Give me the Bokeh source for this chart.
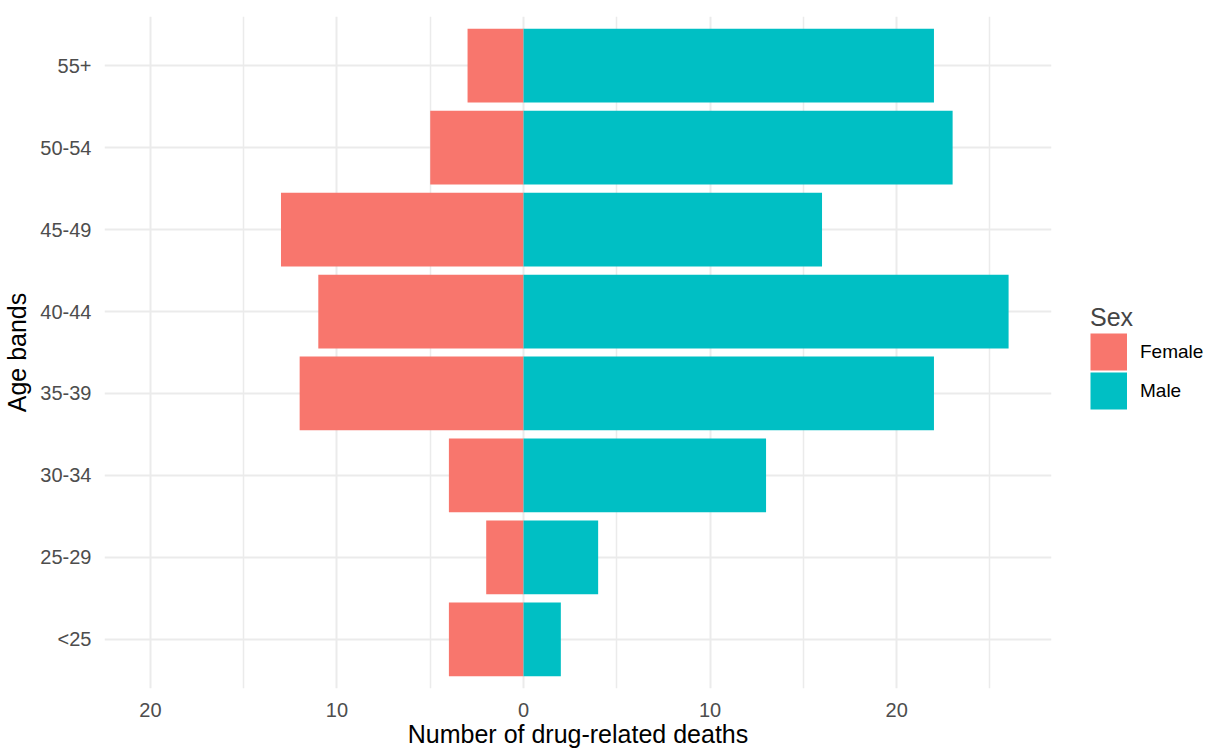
from bokeh.plotting import figure
from bokeh.models import Range1d, FixedTicker, Legend, LegendItem
from bokeh.embed import file_html
from bokeh.resources import INLINE

age_bands = ["<25", "25-29", "30-34", "35-39", "40-44", "45-49", "50-54", "55+"]
female = [4, 2, 4, 12, 11, 13, 5, 3]
male = [2, 4, 13, 22, 26, 16, 23, 22]
x_ticks = [-20, -10, 0, 10, 20]
x_minor = [-15, -5, 5, 15, 25]
sexes = ["Female", "Male"]
colors = ["#F8766D", "#00BFC4"]

FONT = "Liberation Sans"
ypos = list(range(1, len(age_bands) + 1))
female_neg = [-v for v in female]

p = figure(frame_width=947, frame_height=672, output_backend="svg", toolbar_location=None,
           x_range=Range1d(-22.46, 28.3), y_range=Range1d(0.4, 8.6),
           min_border_left=98, min_border_right=153, min_border_top=16, min_border_bottom=0)
p.outline_line_color = None
p.background_fill_color = "white"
p.border_fill_color = "white"

p.hbar(y=ypos, left=female_neg, right=0, height=0.9, fill_color=colors[0], line_color=None)
p.hbar(y=ypos, left=0, right=male, height=0.9, fill_color=colors[1], line_color=None)

# legend keys: solid square swatches (legend-only renderers, nothing drawn in the plot)
nan = float("nan")
keys = [p.line(x=[nan], y=[nan], line_color=c, line_width=37, line_cap="butt") for c in colors]

p.xaxis.ticker = FixedTicker(ticks=x_ticks, minor_ticks=x_minor)
p.xaxis.major_label_overrides = {t: str(abs(t)) for t in x_ticks}
p.yaxis.ticker = FixedTicker(ticks=ypos)
p.yaxis.major_label_overrides = {i: lab for i, lab in zip(ypos, age_bands)}

for ax in (p.xaxis[0], p.yaxis[0]):
    ax.axis_line_color = None
    ax.major_tick_line_color = None
    ax.minor_tick_line_color = None
    ax.major_label_text_font = FONT
    ax.major_label_text_font_size = "20px"
    ax.major_label_text_color = "#4D4D4D"
    ax.axis_label_text_font = FONT
    ax.axis_label_text_font_size = "25px"
    ax.axis_label_text_font_style = "normal"
    ax.axis_label_text_color = "black"

p.xaxis.axis_label = "Number of drug-related deaths"
p.yaxis.axis_label = "Age bands"
p.xaxis.major_label_standoff = 8
p.xaxis.axis_label_standoff = 0
p.yaxis.major_label_standoff = 7
p.yaxis.axis_label_standoff = 6

p.xgrid.grid_line_color = "#EBEBEB"
p.xgrid.grid_line_width = 2
p.xgrid.minor_grid_line_color = "#EBEBEB"
p.xgrid.minor_grid_line_width = 1.5
p.ygrid.grid_line_color = "#EBEBEB"
p.ygrid.grid_line_width = 2

legend = Legend(items=[LegendItem(label=s, renderers=[r]) for s, r in zip(sexes, keys)],
                location=(39, 278), title="Sex",
                title_text_font=FONT, title_text_font_size="25px", title_text_font_style="normal",
                title_standoff=0,
                label_text_font=FONT, label_text_font_size="19px", label_text_color="black",
                glyph_width=37, glyph_height=39, spacing=0, padding=0, margin=0,
                label_standoff=13, border_line_color=None, background_fill_alpha=0)
p.add_layout(legend, "right")

open("out.html", "w").write(file_html(p, INLINE))
